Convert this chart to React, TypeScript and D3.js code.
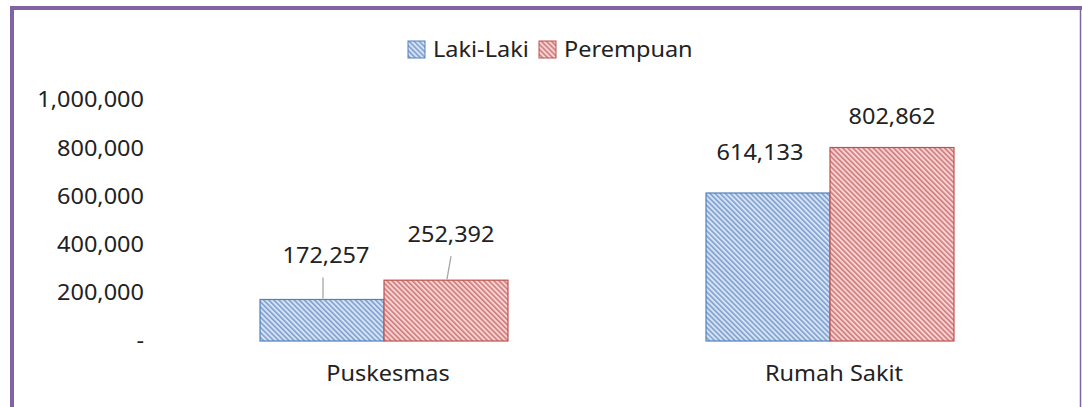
import * as d3 from "d3"

const categories = ["Puskesmas", "Rumah Sakit"]
const seriesNames = ["Laki-Laki", "Perempuan"]
const lakiLaki = [172257, 614133]
const perempuan = [252392, 802862]
const yTicks = [0, 200000, 400000, 600000, 800000, 1000000]

const W = 1082
const H = 407
const FONT = "Noto Sans, sans-serif"
const FS = 21
const SX = 1.12 // the original font (Calibri-ish) renders wider in the picture
const colors = [
    { line: "#4f81bd", stripe: "#7f9fcf", bg: "#d6e3f4" },
    { line: "#c0504d", stripe: "#cf7b7b", bg: "#f7d3d3" },
]

// label placement (dx, distance above bar top), per category/series
const labelPos = [[[4, 44], [5, 46]], [[-8, 40], [0, 31]]]

const Label = ({ x, y, anchor = "middle", children }: any) => (
    <g transform={`translate(${x},${y}) scale(${SX},1)`}>
        <text dy="0.35em" textAnchor={anchor} fontSize={FS} fill="#222">{children}</text>
    </g>
)

export default function App() {
    const x0 = d3.scaleBand<string>().domain(categories).range([161, 1053])
    const bandPad = 0.222
    const x1 = d3.scaleBand<string>().domain(seriesNames)
        .range([x0.bandwidth() * bandPad, x0.bandwidth() * (1 - bandPad)])
    const y = d3.scaleLinear().domain([0, 1000000]).range([341, 100])
    const fmt = (v: number) => (v === 0 ? "-" : d3.format(",")(v))
    const series = [lakiLaki, perempuan]

    return (
        <svg width={W} height={H} style={{ position: "absolute", left: 0, top: 0 }} fontFamily={FONT}>
            <defs>
                {colors.map((c, i) => (
                    <pattern key={i} id={`hatch${i}`} width={3.6} height={3.6} patternUnits="userSpaceOnUse"
                        patternTransform="rotate(-45)">
                        <rect width={3.6} height={3.6} fill={c.bg} />
                        <rect width={1.6} height={3.6} fill={c.stripe} />
                    </pattern>
                ))}
            </defs>
            <rect x={0} y={0} width={W} height={H} fill="#fff" />
            <line x1={1080.5} x2={1080.5} y1={8} y2={H} stroke="#8064a2" strokeWidth={1.5} />
            <line x1={10} x2={W} y1={8} y2={8} stroke="#8064a2" strokeWidth={4} />
            <line x1={12} x2={12} y1={6} y2={H} stroke="#8064a2" strokeWidth={4} />

            {/* legend */}
            {seriesNames.map((s, i) => {
                const lx = [408, 539][i]
                return (
                    <g key={s}>
                        <rect x={lx} y={41} width={17} height={17} fill={`url(#hatch${i})`} stroke={colors[i].line} />
                        <Label x={lx + 25} y={50} anchor="start">{s}</Label>
                    </g>
                )
            })}

            {/* y axis labels */}
            {yTicks.map(t => (
                <Label key={t} x={144} y={y(t)} anchor="end">{fmt(t)}</Label>
            ))}

            {/* bars */}
            {categories.map((c, ci) => (
                <g key={c} transform={`translate(${x0(c)},0)`}>
                    {seriesNames.map((s, si) => {
                        const v = series[si][ci]
                        const bx = x1(s)!
                        const bw = x1.bandwidth()
                        const cx = bx + bw / 2
                        const [dx, lift] = labelPos[ci][si]
                        const small = ci === 0
                        return (
                            <g key={s}>
                                <rect x={bx} y={y(v)} width={bw} height={y(0) - y(v)}
                                    fill={`url(#hatch${si})`} stroke={colors[si].line} strokeWidth={1.2} />
                                {small && (
                                    <line x1={cx + (si === 1 ? 1 : 1)} x2={cx + (si === 1 ? 5 : 1)}
                                        y1={y(v) - 1} y2={y(v) - lift + 22}
                                        stroke="#a6a6a6" strokeWidth={1.3} />
                                )}
                                <Label x={cx + dx} y={y(v) - lift}>{fmt(v)}</Label>
                            </g>
                        )
                    })}
                    <Label x={x0.bandwidth() / 2 + 4} y={374}>{c}</Label>
                </g>
            ))}
        </svg>
    )
}
